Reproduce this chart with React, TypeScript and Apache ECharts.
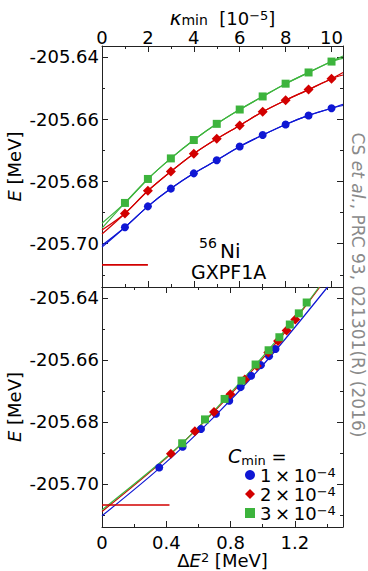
import React, { useEffect, useRef } from "react";
import * as echarts from "echarts";

// ---------- data ----------
const kappa = [1, 2, 3, 4, 5, 6, 7, 8, 9, 10];
const eBlue = [-205.6947, -205.688, -205.6823, -205.6774, -205.6732, -205.6688, -205.6651, -205.6617, -205.6588, -205.6565];
const eRed = [-205.6903, -205.683, -205.6768, -205.6711, -205.6663, -205.662, -205.6576, -205.6539, -205.6505, -205.647];
const eGreen = [-205.6869, -205.6792, -205.6726, -205.6667, -205.6615, -205.6569, -205.6527, -205.6486, -205.645, -205.6415];
const dBlue = [0.356, 0.502, 0.616, 0.709, 0.792, 0.863, 0.928, 0.989, 1.04, 1.08];
const dRed = [0.429, 0.578, 0.697, 0.799, 0.889, 0.964, 1.035, 1.096, 1.149, 1.203];
const dGreen = [0.499, 0.641, 0.763, 0.868, 0.956, 1.037, 1.104, 1.169, 1.225, 1.274];

// fit curves, top panel: values at kappa = 0 and kappa = 10.5 (two curves per colour)
const topFitBlueA = [-205.7005, -205.6552];
const topFitBlueB = [-205.7011, -205.6556];
const topFitRedA = [-205.6956, -205.645];
const topFitRedB = [-205.6969, -205.6458];
const topFitGreenA = [-205.6934, -205.6397];
const topFitGreenB = [-205.695, -205.6405];

// fit curves, bottom panel: [dE2, E]
const botFitBlue = [[0, -205.7103], [0.356, -205.695], [0.709, -205.6778], [1.04, -205.6594], [1.404, -205.6365]];
const botFitRed = [[0, -205.7089], [0.429, -205.6903], [0.799, -205.6712], [1.149, -205.6505], [1.356, -205.6365]];
const botFitGreen = [[0, -205.7084], [0.499, -205.6869], [0.868, -205.6668], [1.225, -205.6451], [1.351, -205.6365]];

// exact reference level (red horizontal segment)
const exactE = -205.7068;
const exactTopX = [0, 2];
const exactBotX = [0, 0.42];

const seriesNames = ["1 × 10⁻⁴", "2 × 10⁻⁴", "3 × 10⁻⁴"];

// axes
const yMin = -205.7139;
const yMax = -205.6365;
const yMajor = [-205.7, -205.68, -205.66, -205.64];
const yMinor = [-205.71, -205.69, -205.67, -205.65];
const kMin = 0;
const kMax = 10.5;
const kMajor = [0, 2, 4, 6, 8, 10];
const kMinor = [1, 3, 5, 7, 9];
const dMin = 0;
const dMax = 1.5;
const dMajor = [0, 0.4, 0.8, 1.2];
const dMinor = [0.2, 0.6, 1.0, 1.4];

const BLUE = "#0f17d4";
const RED = "#d20000";
const GREEN = "#3db43d";
const FRAME = "#222";
const FONT = "DejaVu Sans";

function mkAxis(o: any) {
  const { gridIndex, position, min, max, values, len, label, line, formatter, name, nameGap, nameRotate, labelMargin, labelLineHeight } = o;
  const ax: any = {
    type: "value",
    gridIndex,
    position,
    min,
    max,
    axisLine: { show: !!line, onZero: false, lineStyle: { color: FRAME, width: 1 } },
    axisTick: { show: true, inside: true, length: len, customValues: values, lineStyle: { color: FRAME, width: 1 } },
    axisLabel: label
      ? {
          show: true,
          customValues: values,
          formatter,
          color: "#000",
          fontSize: 18,
          fontFamily: FONT,
          margin: labelMargin,
          lineHeight: labelLineHeight,
        }
      : { show: false },
    splitLine: { show: false },
    minorTick: { show: false },
  };
  if (name) {
    ax.name = name;
    ax.nameLocation = "middle";
    ax.nameGap = nameGap;
    ax.nameMoveOverlap = false;
    if (nameRotate !== undefined) ax.nameRotate = nameRotate;
    ax.nameTextStyle = {
      color: "#000",
      fontFamily: FONT,
      fontSize: 18,
      lineHeight: 18,
      rich: {
        n: { fontSize: 18, fontFamily: FONT, color: "#000", lineHeight: 18 },
        i: { fontSize: 18, fontFamily: FONT, fontStyle: "italic", color: "#000", lineHeight: 18 },
        k: { fontSize: 20, fontFamily: FONT, fontStyle: "italic", color: "#000", lineHeight: 18 },
        sub: { fontSize: 14, fontFamily: FONT, color: "#000", verticalAlign: "bottom", lineHeight: 13 },
        sup: { fontSize: 13, fontFamily: FONT, color: "#000", verticalAlign: "top", lineHeight: 12 },
      },
    };
  }
  return ax;
}

const fmtY = (v: number) => v.toFixed(2);
const fmtK = (v: number) => String(v);
const fmtD = (v: number) => (v === 0 ? "0" : v.toFixed(1));

const xAxes = [
  mkAxis({ gridIndex: 0, position: "top", min: kMin, max: kMax, values: kMajor, len: 6, label: true, line: true, formatter: fmtK, labelMargin: 2, labelLineHeight: 14,
    name: "{k|κ}{sub|min}{n|  [10}{sup|−5}{n|]}", nameGap: 19 }),
  mkAxis({ gridIndex: 0, position: "top", min: kMin, max: kMax, values: kMinor, len: 3 }),
  mkAxis({ gridIndex: 0, position: "bottom", min: kMin, max: kMax, values: kMajor, len: 6, line: true }),
  mkAxis({ gridIndex: 0, position: "bottom", min: kMin, max: kMax, values: kMinor, len: 3 }),
  mkAxis({ gridIndex: 1, position: "bottom", min: dMin, max: dMax, values: dMajor, len: 6, label: true, line: true, formatter: fmtD, labelMargin: 8, labelLineHeight: 15,
    name: "{n|Δ}{i|E}{sup|2}{n| [MeV]}", nameGap: 24 }),
  mkAxis({ gridIndex: 1, position: "bottom", min: dMin, max: dMax, values: dMinor, len: 3 }),
  mkAxis({ gridIndex: 1, position: "top", min: dMin, max: dMax, values: dMajor, len: 6, line: true }),
  mkAxis({ gridIndex: 1, position: "top", min: dMin, max: dMax, values: dMinor, len: 3 }),
];

const yAxes = [
  mkAxis({ gridIndex: 0, position: "left", min: yMin, max: yMax, values: yMajor, len: 6, label: true, line: true, formatter: fmtY, labelMargin: 3,
    name: "{i|E}{n| [MeV]}", nameGap: 79, nameRotate: 90 }),
  mkAxis({ gridIndex: 0, position: "left", min: yMin, max: yMax, values: yMinor, len: 3 }),
  mkAxis({ gridIndex: 0, position: "right", min: yMin, max: yMax, values: yMajor, len: 6, line: true }),
  mkAxis({ gridIndex: 0, position: "right", min: yMin, max: yMax, values: yMinor, len: 3 }),
  mkAxis({ gridIndex: 1, position: "left", min: yMin, max: yMax, values: yMajor, len: 6, label: true, line: true, formatter: fmtY, labelMargin: 3,
    name: "{i|E}{n| [MeV]}", nameGap: 79, nameRotate: 90 }),
  mkAxis({ gridIndex: 1, position: "left", min: yMin, max: yMax, values: yMinor, len: 3 }),
  mkAxis({ gridIndex: 1, position: "right", min: yMin, max: yMax, values: yMajor, len: 6, line: true }),
  mkAxis({ gridIndex: 1, position: "right", min: yMin, max: yMax, values: yMinor, len: 3 }),
];

function topFit(e: number[], ends: number[]) {
  return [[kMin, ends[0]], ...kappa.map((k, i) => [k, e[i]]), [kMax, ends[1]]];
}

function fitLine(data: any, color: string, grid: number, width = 1.2) {
  return {
    type: "line",
    xAxisIndex: grid === 0 ? 0 : 4,
    yAxisIndex: grid === 0 ? 0 : 4,
    data,
    smooth: 0.3,
    symbol: "none",
    showSymbol: false,
    clip: true,
    silent: true,
    lineStyle: { color, width },
    z: 2,
  };
}

function scatter(name: string, data: any, color: string, symbol: string, size: number, grid: number) {
  return {
    type: "scatter",
    name,
    xAxisIndex: grid === 0 ? 0 : 4,
    yAxisIndex: grid === 0 ? 0 : 4,
    data,
    symbol,
    symbolSize: size,
    itemStyle: { color, borderWidth: 0, opacity: 1 },
    z: 5,
  };
}

const option: any = {
  animation: false,
  backgroundColor: "#fff",
  textStyle: { fontFamily: FONT },
  grid: [
    { left: 102, top: 46, width: 241, height: 241, containLabel: false, outerBoundsMode: "none" },
    { left: 102, top: 287, width: 241, height: 240, containLabel: false, outerBoundsMode: "none" },
  ],
  xAxis: xAxes,
  yAxis: yAxes,
  legend: {
    show: true,
    orient: "vertical",
    left: 240,
    top: 461,
    padding: 5,
    itemGap: 1,
    itemWidth: 10,
    itemHeight: 10,
    itemStyle: { borderWidth: 0 },
    selectedMode: false,
    data: [
      { name: seriesNames[0], icon: "circle" },
      { name: seriesNames[1], icon: "diamond" },
      { name: seriesNames[2], icon: "rect" },
    ],
    formatter: (name: string) => {
      const base = name.slice(0, name.indexOf("10") + 2).replace(/ /g, "\u2009");
      return `{n|${base}}{s|−4}`;
    },
    textStyle: {
      color: "#000",
      fontFamily: FONT,
      fontSize: 18,
      rich: {
        n: { fontSize: 18, fontFamily: FONT, color: "#000", lineHeight: 18 },
        s: { fontSize: 13, fontFamily: FONT, color: "#000", verticalAlign: "top", lineHeight: 11 },
      },
    },
  },
  graphic: [
    {
      type: "text",
      x: 228,
      y: 456,
      style: {
        text: "{c|C}{s|min}{e| =}",
        align: "left",
        verticalAlign: "middle",
        rich: {
          c: { fontSize: 19, fontFamily: FONT, fontStyle: "italic", fill: "#000", lineHeight: 22 },
          s: { fontSize: 13, fontFamily: FONT, fill: "#000", verticalAlign: "bottom", lineHeight: 13 },
          e: { fontSize: 18, fontFamily: FONT, fill: "#000", lineHeight: 22 },
        },
      },
    },
    {
      type: "text",
      x: 199,
      y: 243,
      style: { text: "56", fontSize: 14, lineHeight: 14, fontFamily: FONT, fill: "#000", align: "left", verticalAlign: "middle" },
    },
    {
      type: "text",
      x: 220,
      y: 251,
      style: { text: "Ni", fontSize: 20, lineHeight: 16, fontFamily: FONT, fill: "#000", align: "left", verticalAlign: "middle" },
    },
    {
      type: "text",
      x: 191,
      y: 272,
      style: { text: "GXPF1A", fontSize: 19, lineHeight: 16, fontFamily: FONT, fill: "#000", align: "left", verticalAlign: "middle" },
    },
    {
      type: "text",
      x: 358,
      y: 285,
      rotation: -Math.PI / 2,
      style: {
        text: "{n|CS }{i|et al.}{n|, PRC 93, 021301(R) (2016)}",
        align: "center",
        verticalAlign: "middle",
        rich: {
          n: { fontSize: 17, fontFamily: FONT, fill: "#8a8a8a" },
          i: { fontSize: 17, fontFamily: FONT, fontStyle: "italic", fill: "#8a8a8a" },
        },
      },
    },
  ],
  series: [
    // top panel fits
    fitLine(topFit(eBlue, topFitBlueA), BLUE, 0),
    fitLine(topFit(eBlue, topFitBlueB), BLUE, 0),
    fitLine(topFit(eRed, topFitRedA), RED, 0),
    fitLine(topFit(eRed, topFitRedB), RED, 0),
    fitLine(topFit(eGreen, topFitGreenA), GREEN, 0),
    fitLine(topFit(eGreen, topFitGreenB), GREEN, 0),
    fitLine(exactTopX.map((x) => [x, exactE]), RED, 0, 1.6),
    // top panel points
    scatter(seriesNames[0], kappa.map((k, i) => [k, eBlue[i]]), BLUE, "circle", 8, 0),
    scatter(seriesNames[1], kappa.map((k, i) => [k, eRed[i]]), RED, "diamond", 10, 0),
    scatter(seriesNames[2], kappa.map((k, i) => [k, eGreen[i]]), GREEN, "rect", 8, 0),
    // bottom panel fits
    fitLine(botFitBlue, BLUE, 1),
    fitLine(botFitRed, RED, 1),
    fitLine(botFitGreen, GREEN, 1),
    fitLine(exactBotX.map((x) => [x, exactE]), RED, 1, 1.6),
    // bottom panel points
    scatter(seriesNames[0], dBlue.map((d, i) => [d, eBlue[i]]), BLUE, "circle", 8, 1),
    scatter(seriesNames[1], dRed.map((d, i) => [d, eRed[i]]), RED, "diamond", 10, 1),
    scatter(seriesNames[2], dGreen.map((d, i) => [d, eGreen[i]]), GREEN, "rect", 8, 1),
  ],
};

export default function App() {
  const ref = useRef<HTMLDivElement>(null);
  useEffect(() => {
    const chart = echarts.init(ref.current as HTMLDivElement, null, { renderer: "svg" });
    chart.setOption(option);
    return () => {
      chart.dispose();
    };
  }, []);
  return <div ref={ref} style={{ position: "fixed", left: 0, top: 0, width: 368, height: 571 }} />;
}
